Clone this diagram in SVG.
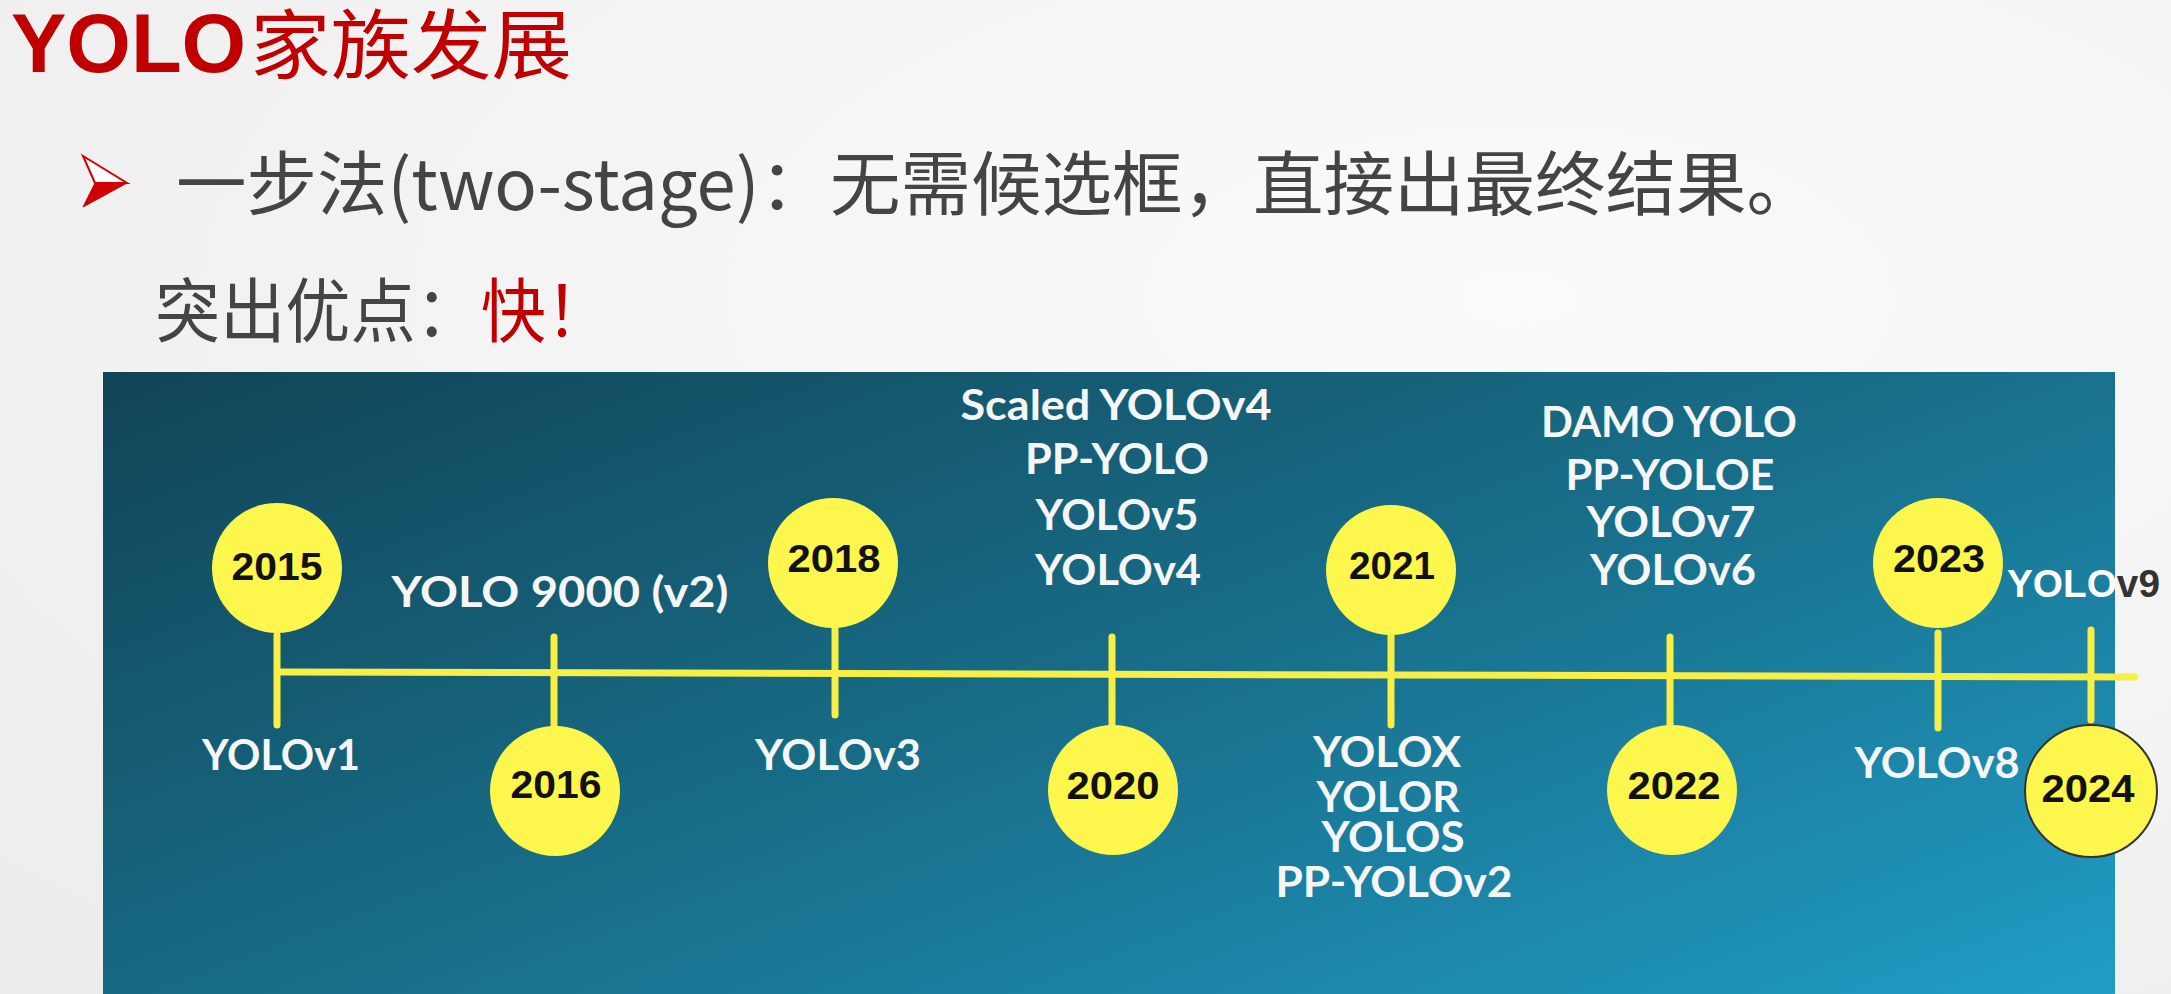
<svg xmlns="http://www.w3.org/2000/svg" width="2171" height="994" viewBox="0 0 2171 994">
<defs>
<radialGradient id="slide" cx="0.7" cy="0.3" r="0.9">
<stop offset="0" stop-color="#fbfbfb"/>
<stop offset="1" stop-color="#ededed"/>
</radialGradient>
<linearGradient id="panel" gradientUnits="userSpaceOnUse" x1="103" y1="372" x2="560" y2="1583">
<stop offset="0" stop-color="#114456"/>
<stop offset="0.5" stop-color="#186d88"/>
<stop offset="1" stop-color="#209dc6"/>
</linearGradient>
<style>
.cjk{font-family:"Noto Sans CJK SC","Noto Sans",sans-serif;}
.yr{fill:#fdf64c;}
.yt{font-family:"Liberation Sans",Arial,sans-serif;font-weight:bold;font-size:38px;fill:#111;text-anchor:middle;}
.lb{font-family:Lato,"Liberation Sans",sans-serif;font-weight:bold;font-size:42px;fill:#f6f6f6;text-anchor:middle;}
.stem{stroke:#f7ef45;stroke-width:7;stroke-linecap:round;fill:none;}
</style>
</defs>
<rect x="0" y="0" width="2171" height="994" fill="url(#slide)"/>
<g id="title">
<text x="11" y="72" font-size="83" fill="#c00000" font-family="Liberation Sans, Arial, sans-serif" font-weight="bold">YOLO</text>
<text x="250" y="73" class="cjk" font-size="76" fill="#c00000" textLength="322" lengthAdjust="spacingAndGlyphs">家族发展</text>
</g>
<g id="bullet-line">
<polygon points="83,156 127,183 95,183" fill="#ffffff" stroke="#d00000" stroke-width="2"/>
<polygon points="95,183 127,183 83,207" fill="#d00000" stroke="#d00000" stroke-width="1"/>
<text x="176" y="210" class="cjk" font-size="70" fill="#444444" textLength="1641" lengthAdjust="spacingAndGlyphs">一步法(two-stage)：无需候选框，直接出最终结果。</text>
</g>
<g id="advantage">
<text x="155" y="337" class="cjk" font-size="70" fill="#444444" textLength="456" lengthAdjust="spacingAndGlyphs">突出优点：<tspan fill="#c00000">快！</tspan></text>
</g>
<rect id="panel-bg" x="103" y="372" width="2012" height="622" fill="url(#panel)"/>
<g id="connectors">
<line class="stem" x1="279" y1="672" x2="2135" y2="677" stroke-linecap="butt"/>
<line class="stem" x1="277" y1="635" x2="277" y2="725"/>
<line class="stem" x1="554" y1="637" x2="554" y2="727"/>
<line class="stem" x1="835" y1="628" x2="835" y2="715"/>
<line class="stem" x1="1112" y1="637" x2="1112" y2="725"/>
<line class="stem" x1="1391" y1="635" x2="1391" y2="725"/>
<line class="stem" x1="1670" y1="637" x2="1670" y2="725"/>
<line class="stem" x1="1938" y1="633" x2="1938" y2="728"/>
<line class="stem" x1="2091" y1="630" x2="2091" y2="720" stroke-linecap="butt"/>
</g>
<g id="y2015">
<circle class="yr" cx="277" cy="568" r="65"/>
<text class="yt" x="277" y="580" textLength="91" lengthAdjust="spacingAndGlyphs">2015</text>
<text class="lb" x="281" y="770" textLength="158" lengthAdjust="spacingAndGlyphs">YOLOv1</text>
</g>
<g id="y2016">
<circle class="yr" cx="555" cy="791" r="65"/>
<text class="yt" x="556" y="798" textLength="91" lengthAdjust="spacingAndGlyphs">2016</text>
<text class="lb" x="560" y="607" textLength="337" lengthAdjust="spacingAndGlyphs">YOLO 9000 (v2)</text>
</g>
<g id="y2018">
<circle class="yr" cx="833" cy="563" r="65"/>
<text class="yt" x="834" y="572" textLength="93" lengthAdjust="spacingAndGlyphs">2018</text>
<text class="lb" x="838" y="770" textLength="166" lengthAdjust="spacingAndGlyphs">YOLOv3</text>
</g>
<g id="y2020">
<circle class="yr" cx="1113" cy="790" r="65"/>
<text class="yt" x="1113" y="799" textLength="93" lengthAdjust="spacingAndGlyphs">2020</text>
<text class="lb" x="1116" y="420" textLength="311" lengthAdjust="spacingAndGlyphs">Scaled YOLOv4</text>
<text class="lb" x="1117" y="474" textLength="184" lengthAdjust="spacingAndGlyphs">PP-YOLO</text>
<text class="lb" x="1117" y="530" textLength="163" lengthAdjust="spacingAndGlyphs">YOLOv5</text>
<text class="lb" x="1118" y="585" textLength="166" lengthAdjust="spacingAndGlyphs">YOLOv4</text>
</g>
<g id="y2021">
<circle class="yr" cx="1391" cy="570" r="65"/>
<text class="yt" x="1392" y="579" textLength="86" lengthAdjust="spacingAndGlyphs">2021</text>
<text class="lb" x="1387" y="767" textLength="148" lengthAdjust="spacingAndGlyphs">YOLOX</text>
<text class="lb" x="1388" y="812" textLength="143" lengthAdjust="spacingAndGlyphs">YOLOR</text>
<text class="lb" x="1393" y="852" textLength="143" lengthAdjust="spacingAndGlyphs">YOLOS</text>
<text class="lb" x="1394" y="897" textLength="237" lengthAdjust="spacingAndGlyphs">PP-YOLOv2</text>
</g>
<g id="y2022">
<circle class="yr" cx="1672" cy="790" r="65"/>
<text class="yt" x="1674" y="799" textLength="93" lengthAdjust="spacingAndGlyphs">2022</text>
<text class="lb" x="1669" y="437" textLength="256" lengthAdjust="spacingAndGlyphs">DAMO YOLO</text>
<text class="lb" x="1670" y="490" textLength="209" lengthAdjust="spacingAndGlyphs">PP-YOLOE</text>
<text class="lb" x="1671" y="537" textLength="169" lengthAdjust="spacingAndGlyphs">YOLOv7</text>
<text class="lb" x="1673" y="585" textLength="166" lengthAdjust="spacingAndGlyphs">YOLOv6</text>
</g>
<g id="y2023">
<circle class="yr" cx="1938" cy="563" r="65"/>
<text class="yt" x="1939" y="572" font-size="34" textLength="92" lengthAdjust="spacingAndGlyphs">2023</text>
<text class="lb" x="1937" y="778" textLength="165" lengthAdjust="spacingAndGlyphs">YOLOv8</text>
</g>
<g id="y2024">
<circle class="yr" cx="2091" cy="791" r="66" stroke="#333333" stroke-width="2"/>
<text class="yt" x="2088" y="802" font-size="35" fill="#333333" textLength="93" lengthAdjust="spacingAndGlyphs">2024</text>
<text x="2007" y="597" font-family="Liberation Sans, Arial, sans-serif" font-weight="bold" font-size="39" fill="#ffffff" textLength="153" lengthAdjust="spacingAndGlyphs">YOLO<tspan fill="#333333">v9</tspan></text>
</g>
</svg>
